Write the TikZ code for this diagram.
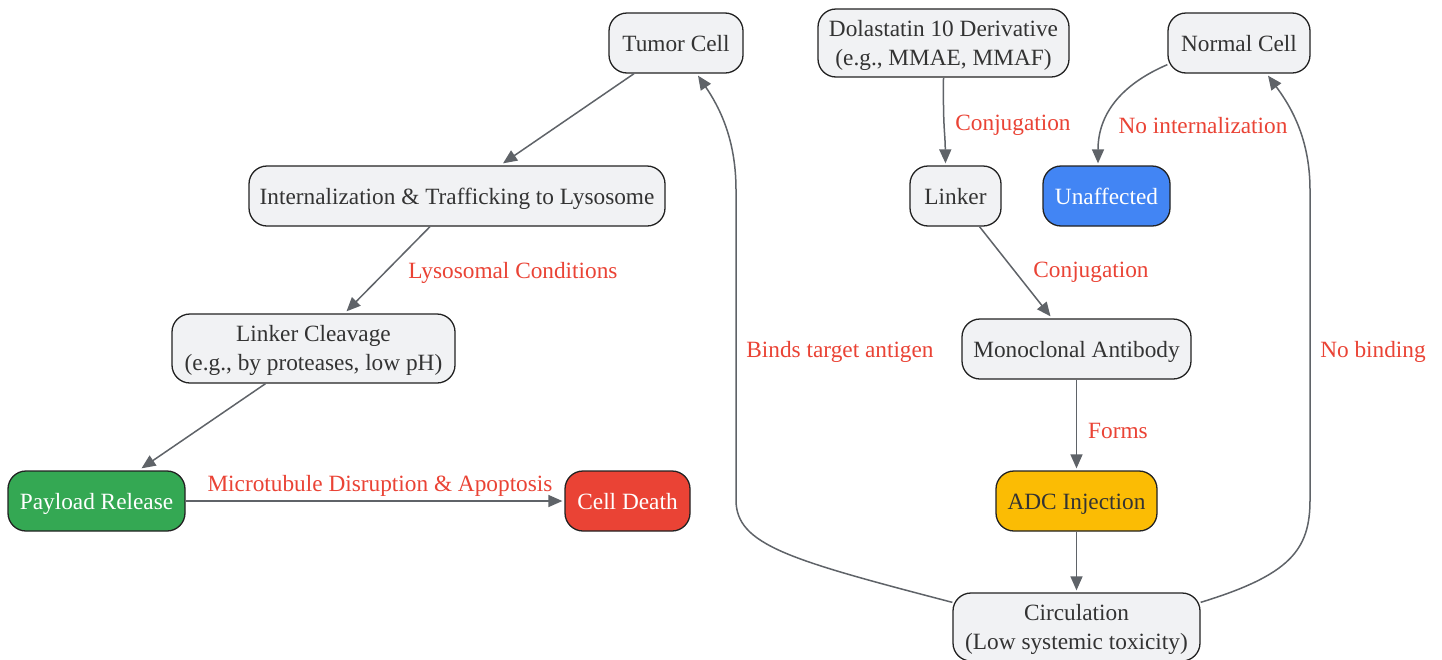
\documentclass[tikz,border=0pt]{standalone}
\usepackage{fontspec}
\setmainfont{Liberation Serif}
\usetikzlibrary{arrows.meta,calc}
\definecolor{nodefill}{HTML}{F1F2F4}
\definecolor{nodedraw}{HTML}{222222}
\definecolor{textc}{HTML}{333333}
\definecolor{edgec}{HTML}{5F6368}
\definecolor{lblc}{HTML}{EA4335}
\definecolor{gfill}{HTML}{34A853}
\definecolor{rfill}{HTML}{EA4335}
\definecolor{bfill}{HTML}{4285F4}
\definecolor{yfill}{HTML}{FBBC04}
\begin{document}
\begin{tikzpicture}[x=1pt,y=-1pt,
 box/.style={draw=nodedraw, line width=1.3pt, fill=nodefill, rounded corners=18pt, inner sep=0pt, minimum height=60},
 twotext/.style={align=center, inner sep=0pt, font=\fontsize{23.3}{29}\selectfont, text=textc, yshift=-2pt},
 boxtext/.style={twotext, text height=16pt, text depth=5pt, yshift=-1pt},
 wtext/.style={boxtext, text=white},
 edge/.style={draw=edgec, line width=1.5pt, -{Triangle[length=14pt,width=12pt]}},
 lbl/.style={text=lblc, font=\fontsize{23.3}{29}\selectfont, inner sep=0pt}]
\useasboundingbox (0,0) rectangle (1442,659);
\fill[white] (0,0) rectangle (1442,659);

\node[box, minimum width=134, label={[boxtext]center:Tumor Cell}] (tumor) at (676,43) {};
\node[box, minimum width=251, minimum height=68, label={[twotext]center:Dolastatin 10 Derivative\\(e.g., MMAE, MMAF)}] (dola) at (943.5,43) {};
\node[box, minimum width=142, label={[boxtext]center:Normal Cell}] (normal) at (1239,43) {};
\node[box, minimum width=416, label={[boxtext]center:Internalization \& Trafficking to Lysosome}] (intern) at (457,196) {};
\node[box, minimum width=91, label={[boxtext]center:Linker}] (linker) at (955.5,196) {};
\node[box, fill=bfill, minimum width=127, label={[wtext]center:Unaffected}] (unaff) at (1106.5,196) {};
\node[box, minimum width=283, minimum height=69, label={[twotext]center:Linker Cleavage\\(e.g., by proteases, low pH)}] (cleave) at (313.5,348.5) {};
\node[box, minimum width=229, label={[boxtext]center:Monoclonal Antibody}] (mab) at (1076.5,349) {};
\node[box, fill=gfill, minimum width=177, label={[wtext]center:Payload Release}] (payload) at (96.5,501) {};
\node[box, fill=rfill, minimum width=125, label={[wtext]center:Cell Death}] (death) at (627.5,501) {};
\node[box, fill=yfill, minimum width=161, label={[boxtext]center:ADC Injection}] (adc) at (1076.5,501) {};
\node[box, minimum width=247, minimum height=68, label={[twotext]center:Circulation\\(Low systemic toxicity)}] (circ) at (1076.5,627) {};

\draw[edge] ($(tumor.south)+(-42,0)$) -- ($(intern.north)+(46,-2)$);
\draw[edge] ($(intern.south)+(-27,0)$) -- ($(cleave.north)+(33,-2)$);
\draw[edge] ($(cleave.south)+(-48,0)$) -- ($(payload.north)+(45,-2)$);
\draw[edge] (payload.east) -- ($(death.west)+(-2,0)$);
\draw[edge] (dola.south) .. controls (943,130) and (945,130) .. ($(linker.north)+(-10,-2)$);
\draw[edge] ($(linker.south)+(24,0)$) -- ($(mab.north)+(-26,-2)$);
\draw[edge] (mab.south) -- ($(adc.north)+(0,-2)$);
\draw[edge] (adc.south) -- ($(circ.north)+(0,-2)$);
\draw[edge] ($(circ.north west)+(0,10)$) .. controls (790,560) and (736,545) .. (736,500) -- (736,190) .. controls (736,140) and (720,108) .. ($(tumor.south)+(22,2)$);
\draw[edge] ($(circ.north east)+(0,10)$) .. controls (1290,575) and (1310,550) .. (1310,500) -- (1310,190) .. controls (1310,140) and (1292,108) .. ($(normal.south)+(29,2)$);
\draw[edge] ($(normal.south west)+(0,-9)$) .. controls (1120,85) and (1098,115) .. ($(unaff.north)+(-8.5,-2)$);

\node[lbl] (l1) at (513,272.5) {Lysosomal Conditions};
\node[lbl] (l2) at (380,485.5) {Microtubule Disruption \& Apoptosis};
\node[lbl] (l3) at (1013,125.5) {Conjugation};
\node[lbl] (l4) at (1203,125.5) {No internalization};
\node[lbl] (l5) at (1091,272.5) {Conjugation};
\node[lbl] (l6) at (840,351.5) {Binds target antigen};
\node[lbl] (l7) at (1118,430.5) {Forms};
\node[lbl] (l8) at (1373,351.5) {No binding};
\end{tikzpicture}
\end{document}
